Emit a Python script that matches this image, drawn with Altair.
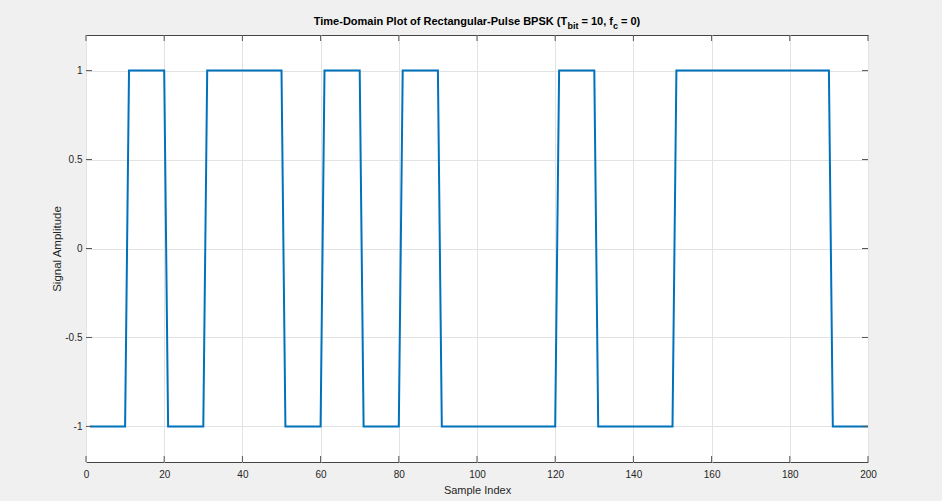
import altair as alt
import numpy as np
import pandas as pd

# ---- data ----
bits = [0, 1, 0, 1, 1, 0, 1, 0, 1, 0, 0, 0, 1, 0, 0, 1, 1, 1, 1, 0]
samples_per_bit = 10
x_ticks = [0, 20, 40, 60, 80, 100, 120, 140, 160, 180, 200]
y_ticks = [-1, -0.5, 0, 0.5, 1]

symbols = np.array(bits) * 2 - 1
signal = np.repeat(symbols, samples_per_bit)
idx = np.arange(1, len(signal) + 1)
df = pd.DataFrame({"n": idx, "s": signal})

W, H = 782, 427
FONT = "Liberation Sans"
AX = "#262626"
GRID = "#e3e3e3"

xs = alt.Scale(domain=[0, 200], nice=False, zero=False)
ys = alt.Scale(domain=[-1.2, 1.2], nice=False, zero=False)

line = alt.Chart(df).mark_line(color="#0072BD", strokeWidth=2, clip=True).encode(
    x=alt.X("n:Q", scale=xs,
            axis=alt.Axis(values=x_ticks, title="Sample Index", grid=True, gridColor=GRID,
                          tickSize=0, domain=False, labelFont=FONT, labelFontSize=10,
                          labelColor=AX, labelPadding=7, titleFont=FONT, titleFontSize=11,
                          titleFontWeight="normal", titleColor=AX, titlePadding=5,
                          labelFlush=False, labelExpr="toString(datum.value)")),
    y=alt.Y("s:Q", scale=ys,
            axis=alt.Axis(values=y_ticks, title="Signal Amplitude", grid=True, gridColor=GRID,
                          tickSize=0, domain=False, labelFont=FONT, labelFontSize=10,
                          labelColor=AX, labelPadding=4, titleFont=FONT, titleFontSize=11.5,
                          titleFontWeight="normal", titleColor=AX, titlePadding=2,
                          labelFlush=False, labelExpr="toString(datum.value)")),
)

# inward ticks
xt = pd.DataFrame({"v": x_ticks})
yt = pd.DataFrame({"v": y_ticks})
tick_col = "#555555"
xb = alt.Chart(xt).mark_rule(color=tick_col, strokeWidth=1).encode(
    x=alt.X("v:Q", scale=xs), y=alt.value(H), y2=alt.value(H - 6))
xtop = alt.Chart(xt).mark_rule(color=tick_col, strokeWidth=1).encode(
    x=alt.X("v:Q", scale=xs), y=alt.value(0), y2=alt.value(6))
yl = alt.Chart(yt).mark_rule(color=tick_col, strokeWidth=1).encode(
    y=alt.Y("v:Q", scale=ys), x=alt.value(0), x2=alt.value(6))
yr = alt.Chart(yt).mark_rule(color=tick_col, strokeWidth=1).encode(
    y=alt.Y("v:Q", scale=ys), x=alt.value(W), x2=alt.value(W - 6))

# title with subscripts
AW = {' ': 278, '(': 333, ')': 333, ',': 278, '-': 333, '0': 556, '1': 556,
      '=': 584, 'B': 722, 'D': 722, 'K': 722, 'P': 667, 'R': 722, 'S': 667, 'T': 611,
      'a': 556, 'b': 611, 'c': 556, 'e': 556, 'f': 333, 'g': 611, 'i': 278, 'l': 278,
      'm': 889, 'n': 611, 'o': 611, 'p': 611, 'r': 389, 's': 556, 't': 333, 'u': 611}

def tw(s, size):
    return sum(AW.get(c, 556) for c in s) * size / 1000.0

# (text, font size, baseline shift, leading gap in font units)
pieces = [("Time-Domain Plot of Rectangular-Pulse BPSK (T", 11, 0, 0),
          ("bit", 9, 4, 0),
          ("= 10, f", 11, 0, 278),
          ("c", 9, 4, 0),
          ("= 0)", 11, 0, 278)]
total = sum(tw(t, s) + g * s / 1000.0 for t, s, _, g in pieces)
x0 = W / 2 - total / 2
layers = []
cx = x0
for t, s, dy, g in pieces:
    cx += g * s / 1000.0
    layers.append(
        alt.Chart(pd.DataFrame({"t": [t]})).mark_text(
            font=FONT, fontSize=s, fontWeight="bold", color="#000000", align="left",
            baseline="alphabetic", clip=False
        ).encode(text="t:N", x=alt.value(cx), y=alt.value(-10 + dy))
    )
    cx += tw(t, s)

chart = alt.layer(line, xb, xtop, yl, yr, *layers).properties(
    width=W, height=H,
    background="#f0f0f0",
    padding={"left": 86, "top": 35, "right": 74, "bottom": 39},
    autosize=alt.AutoSizeParams(type="none"),
).configure_view(
    fill="white", stroke="#444444", strokeWidth=1
)

chart.save("out.html", embed_options={"renderer": "svg", "actions": False})
